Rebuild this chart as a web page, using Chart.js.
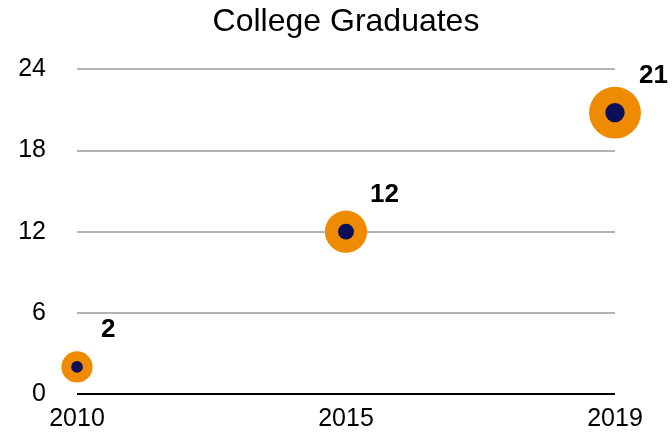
<!DOCTYPE html>
<html>
<head>
<meta charset="utf-8">
<script src="https://cdn.jsdelivr.net/npm/chart.js@4"></script>
<style>
  html, body { margin: 0; padding: 0; background: #ffffff; }
  #wrap { width: 672px; height: 435px; position: relative; }
</style>
</head>
<body>
<div id="wrap"><canvas id="c" width="672" height="435"></canvas></div>
<script>
// ---- data ----
const categories = ['2010', '2015', '2019'];
const graduates = [2, 12, 20.8];
const yTicks = [0, 6, 12, 18, 24];
const chartTitle = 'College Graduates';

// ---- styles ----
const ORANGE = '#ef8b00';
const NAVY = '#0a0f58';
const FONT = "'Liberation Sans', Arial, Helvetica, sans-serif";

const outerR = (ctx) => 14.5 + 0.55 * (ctx.raw || 0);
const innerR = (ctx) => 5.5 + 0.2 * (ctx.raw || 0);

const valueLabels = {
  id: 'valueLabels',
  afterDatasetsDraw(chart) {
    const meta = chart.getDatasetMeta(0);
    const c = chart.ctx;
    c.save();
    c.font = 'bold 26px ' + FONT;
    c.fillStyle = '#000';
    c.textAlign = 'left';
    c.textBaseline = 'middle';
    meta.data.forEach((el, i) => {
      c.fillText(String(Math.round(graduates[i])), el.x + 24, el.y - 37);
    });
    c.restore();
  }
};

// centre the title over the plot area rather than the whole canvas
const centerTitle = {
  id: 'centerTitle',
  afterLayout(chart) {
    const t = chart.titleBlock;
    if (t) {
      t.left = chart.chartArea.left;
      t.right = chart.chartArea.right;
      t.width = t.right - t.left;
    }
  }
};

new Chart(document.getElementById('c'), {
  type: 'line',
  data: {
    labels: categories,
    datasets: [
      {
        data: graduates,
        showLine: false,
        clip: false,
        pointRadius: innerR,
        pointHoverRadius: innerR,
        pointBackgroundColor: NAVY,
        pointBorderWidth: 0,
        pointBorderColor: NAVY
      },
      {
        data: graduates,
        showLine: false,
        clip: false,
        pointRadius: outerR,
        pointHoverRadius: outerR,
        pointBackgroundColor: ORANGE,
        pointBorderWidth: 0,
        pointBorderColor: ORANGE
      }
    ]
  },
  options: {
    responsive: false,
    animation: false,
    devicePixelRatio: 1,
    layout: { padding: { left: 18, right: 57, top: 0, bottom: 1 } },
    plugins: {
      legend: { display: false },
      tooltip: { enabled: false },
      title: {
        display: true,
        text: chartTitle,
        color: '#000',
        font: { family: FONT, size: 32, weight: 'normal' },
        padding: { top: 3, bottom: 28 }
      }
    },
    scales: {
      x: {
        type: 'category',
        offset: false,
        grid: { display: false, drawTicks: false },
        border: { display: false },
        ticks: {
          color: '#000',
          font: { family: FONT, size: 25 },
          padding: 10,
          maxRotation: 0,
          autoSkip: false
        },
        afterFit(scale) {
          scale.height = 40;
          scale.paddingLeft = 0;
          scale.paddingRight = 0;
        }
      },
      y: {
        min: 0,
        max: 24,
        afterBuildTicks(scale) {
          scale.ticks = yTicks.map(v => ({ value: v }));
        },
        grid: {
          drawTicks: false,
          lineWidth: 2,
          color: (ctx) => (ctx.tick && ctx.tick.value === 0) ? '#000000' : '#b4b4b4'
        },
        border: { display: false },
        ticks: {
          color: '#000',
          font: { family: FONT, size: 25 },
          padding: 31
        },
        afterFit(scale) {
          scale.width = 59;
          scale.paddingTop = 0;
          scale.paddingBottom = 0;
        }
      }
    }
  },
  plugins: [valueLabels, centerTitle]
});
</script>
</body>
</html>
